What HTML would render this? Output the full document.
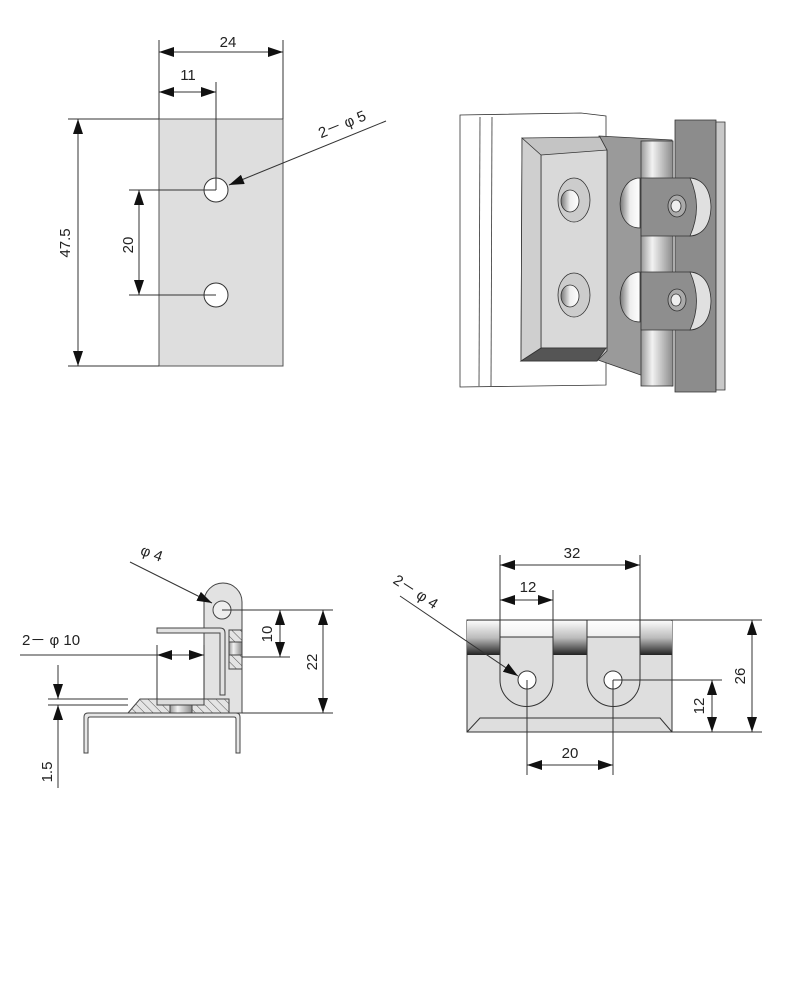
<!DOCTYPE html>
<html><head><meta charset="utf-8"><style>
html,body{margin:0;padding:0;background:#fff;}
svg{display:block;}
text{font-family:"Liberation Sans",sans-serif;font-size:15px;fill:#222;}
</style></head><body>
<svg width="788" height="1000" viewBox="0 0 788 1000" xmlns="http://www.w3.org/2000/svg">
<defs>
<marker id="a" viewBox="0 0 15 10" refX="15" refY="5" markerWidth="15" markerHeight="10" markerUnits="userSpaceOnUse" orient="auto-start-reverse"><path d="M0,0L15,5L0,10z" fill="#111"/></marker>
<pattern id="h" width="6" height="6" patternUnits="userSpaceOnUse" patternTransform="rotate(-45)"><rect width="6" height="6" fill="#e4e4e4"/><line x1="0" y1="0" x2="0" y2="6" stroke="#555" stroke-width="1"/></pattern>
<linearGradient id="band" x1="0" y1="0" x2="0" y2="1"><stop offset="0" stop-color="#fafafa"/><stop offset="0.5" stop-color="#bbb"/><stop offset="1" stop-color="#222"/></linearGradient>
<linearGradient id="sband" x1="0" y1="0" x2="0" y2="1"><stop offset="0" stop-color="#fff"/><stop offset="1" stop-color="#f0f0f0"/></linearGradient>
<linearGradient id="cyl" x1="0" y1="0" x2="1" y2="0"><stop offset="0" stop-color="#999"/><stop offset="0.35" stop-color="#f2f2f2"/><stop offset="1" stop-color="#8a8a8a"/></linearGradient>
<linearGradient id="cut" x1="0" y1="0" x2="1" y2="0"><stop offset="0" stop-color="#777"/><stop offset="0.5" stop-color="#eee"/><stop offset="1" stop-color="#fff"/></linearGradient>
</defs>
<g stroke="#333" stroke-width="1" fill="none">
<rect x="159" y="119" width="124" height="247" fill="#dedede" stroke="#555"/>
<circle cx="216" cy="190" r="12" fill="#fff"/>
<circle cx="216" cy="295" r="12" fill="#fff"/>
<line x1="159" y1="40" x2="159" y2="119"/><line x1="283" y1="40" x2="283" y2="119"/>
<line x1="159" y1="52" x2="283" y2="52" marker-start="url(#a)" marker-end="url(#a)"/>
<line x1="216" y1="82" x2="216" y2="190"/>
<line x1="159" y1="92" x2="216" y2="92" marker-start="url(#a)" marker-end="url(#a)"/>
<line x1="68" y1="119" x2="159" y2="119"/><line x1="68" y1="366" x2="159" y2="366"/>
<line x1="78" y1="119" x2="78" y2="366" marker-start="url(#a)" marker-end="url(#a)"/>
<line x1="129" y1="190" x2="216" y2="190"/><line x1="129" y1="295" x2="216" y2="295"/>
<line x1="139" y1="190" x2="139" y2="295" marker-start="url(#a)" marker-end="url(#a)"/>
<line x1="386" y1="121" x2="229" y2="185" marker-end="url(#a)"/>
</g>
<text x="228" y="47" text-anchor="middle">24</text>
<text x="188" y="80" text-anchor="middle">11</text>
<text transform="translate(70,243) rotate(-90)" text-anchor="middle">47.5</text>
<text transform="translate(133,245) rotate(-90)" text-anchor="middle">20</text>
<text transform="translate(344,129) rotate(-22)" text-anchor="middle">2－ φ 5</text>

<g stroke="#333" stroke-width="0.8">
<polygon points="460,115 581,113 606,116 606,385 460,387" fill="#fff"/>
<line x1="480" y1="117" x2="479" y2="386"/><line x1="492" y1="117" x2="491" y2="386"/>
<polygon points="599,136 672,140 672,386 598,360" fill="#9a9a9a"/>
<polygon points="675,120 716,120 716,392 675,392" fill="#8c8c8c"/>
<polygon points="716,122 725,122 725,390 716,390" fill="#c8c8c8"/>
<rect x="641" y="141" width="32" height="245" fill="url(#cyl)"/>
<polygon points="522,138 600,137 607,150 607,351 597,361 521,361" fill="#c4c4c4"/>
<polygon points="541,155 607,150 607,348 541,348" fill="#d9d9d9"/>
<polygon points="521,361 541,348 606,348 597,361" fill="#555"/>
<polygon points="522,138 541,155 541,348 521,361" fill="#cfcfcf"/>
<ellipse cx="574" cy="200" rx="16" ry="22" fill="#ccc"/><ellipse cx="570" cy="201" rx="9" ry="11" fill="url(#cut)"/>
<ellipse cx="574" cy="295" rx="16" ry="22" fill="#ccc"/><ellipse cx="570" cy="296" rx="9" ry="11" fill="url(#cut)"/>
<path d="M640,178 C615,178 612,228 640,228 Z" fill="url(#cut)"/>
<path d="M640,272 C615,272 612,322 640,322 Z" fill="url(#cut)"/>
<path d="M641,178 L690,178 Q707,178 707,207 Q707,236 690,236 L641,236 Z" fill="#8e8e8e"/>
<path d="M690,178 Q710,180 711,207 Q710,234 690,236 Q703,207 690,178Z" fill="#e0e0e0"/>
<path d="M641,272 L690,272 Q707,272 707,301 Q707,330 690,330 L641,330 Z" fill="#8e8e8e"/>
<path d="M690,272 Q710,274 711,301 Q710,328 690,330 Q703,301 690,272Z" fill="#e0e0e0"/>
<ellipse cx="677" cy="206" rx="9" ry="11" fill="#aaa"/><ellipse cx="676" cy="206" rx="5" ry="6" fill="#eee"/>
<ellipse cx="677" cy="300" rx="9" ry="11" fill="#aaa"/><ellipse cx="676" cy="300" rx="5" ry="6" fill="#eee"/>
</g>

<g stroke="#444" stroke-width="1">
<path d="M84,753 L84,717 Q84,713 88,713 L236,713 Q240,713 240,717 L240,753 L236,753 L236,719 Q236,717 234,717 L90,717 Q88,717 88,719 L88,753 Z" fill="#e6e6e6"/>
<path d="M204,713 L204,602 A19,19 0 0 1 242,602 L242,713 Z" fill="#e2e2e2"/>
<circle cx="222" cy="610" r="9" fill="#eee"/>
<rect x="229" y="630" width="13" height="12" fill="url(#h)"/>
<rect x="229" y="655" width="13" height="14" fill="url(#h)"/>
<rect x="229" y="642" width="13" height="13" fill="url(#cyl)"/>
<path d="M157,628 L220,628 Q225,628 225,633 L225,695 L220,695 L220,633 L157,633 Z" fill="#e2e2e2"/>
<polygon points="128,713 140,699 229,699 229,713" fill="url(#h)"/>
<rect x="157" y="699" width="47" height="6" fill="#ddd"/>
<rect x="170" y="705" width="22" height="8" fill="url(#cyl)"/>
</g>
<g stroke="#333" stroke-width="1" fill="none">
<line x1="130" y1="562" x2="212" y2="603" marker-end="url(#a)"/>
<line x1="222" y1="610" x2="333" y2="610"/><line x1="242" y1="657" x2="290" y2="657"/><line x1="242" y1="713" x2="333" y2="713"/>
<line x1="280" y1="610" x2="280" y2="657" marker-start="url(#a)" marker-end="url(#a)"/>
<line x1="323" y1="610" x2="323" y2="713" marker-start="url(#a)" marker-end="url(#a)"/>
<line x1="157" y1="645" x2="157" y2="699"/><line x1="204" y1="645" x2="204" y2="699"/>
<line x1="20" y1="655" x2="157" y2="655"/>
<line x1="181" y1="655" x2="157" y2="655" marker-end="url(#a)"/><line x1="181" y1="655" x2="204" y2="655" marker-end="url(#a)"/>
<line x1="48" y1="699" x2="128" y2="699"/><line x1="48" y1="705" x2="128" y2="705"/>
<line x1="58" y1="665" x2="58" y2="699" marker-end="url(#a)"/>
<line x1="58" y1="788" x2="58" y2="705" marker-end="url(#a)"/>
</g>
<text transform="translate(150,558) rotate(20)" text-anchor="middle">φ 4</text>
<text x="22" y="645">2－ φ 10</text>
<text transform="translate(272,634) rotate(-90)" text-anchor="middle">10</text>
<text transform="translate(317,662) rotate(-90)" text-anchor="middle">22</text>
<text transform="translate(52,772) rotate(-90)" text-anchor="middle">1.5</text>

<g stroke="#333" stroke-width="1">
<rect x="467" y="620" width="205" height="112" fill="#dedede"/>
<rect x="467" y="621" width="205" height="34" fill="url(#band)" stroke="none"/>
<path d="M500,620 L500,680 A26.5,26.5 0 0 0 553,680 L553,620" fill="#dedede"/>
<path d="M587,620 L587,680 A26.5,26.5 0 0 0 640,680 L640,620" fill="#dedede"/>
<rect x="500.5" y="620.5" width="52" height="16.5" fill="url(#sband)" stroke="none"/>
<rect x="587.5" y="620.5" width="52" height="16.5" fill="url(#sband)" stroke="none"/>
<line x1="500" y1="637" x2="553" y2="637"/><line x1="587" y1="637" x2="640" y2="637"/>
<line x1="467" y1="620" x2="672" y2="620"/>
<polyline points="467,732 480,718 660,718 672,732" fill="none"/>
<circle cx="527" cy="680" r="9" fill="#fff"/><circle cx="613" cy="680" r="9" fill="#fff"/>
</g>
<g stroke="#333" stroke-width="1" fill="none">
<line x1="500" y1="555" x2="500" y2="620"/><line x1="640" y1="555" x2="640" y2="620"/>
<line x1="500" y1="565" x2="640" y2="565" marker-start="url(#a)" marker-end="url(#a)"/>
<line x1="553" y1="590" x2="553" y2="620"/>
<line x1="500" y1="600" x2="553" y2="600" marker-start="url(#a)" marker-end="url(#a)"/>
<line x1="527" y1="680" x2="527" y2="775"/><line x1="613" y1="680" x2="613" y2="775"/>
<line x1="527" y1="765" x2="613" y2="765" marker-start="url(#a)" marker-end="url(#a)"/>
<line x1="672" y1="620" x2="762" y2="620"/><line x1="672" y1="732" x2="762" y2="732"/>
<line x1="752" y1="620" x2="752" y2="732" marker-start="url(#a)" marker-end="url(#a)"/>
<line x1="613" y1="680" x2="722" y2="680"/>
<line x1="712" y1="680" x2="712" y2="732" marker-start="url(#a)" marker-end="url(#a)"/>
<line x1="400" y1="596" x2="518" y2="676" marker-end="url(#a)"/>
</g>
<text x="572" y="558" text-anchor="middle">32</text>
<text x="528" y="592" text-anchor="middle">12</text>
<text x="570" y="758" text-anchor="middle">20</text>
<text transform="translate(745,676) rotate(-90)" text-anchor="middle">26</text>
<text transform="translate(704,706) rotate(-90)" text-anchor="middle">12</text>
<text transform="translate(413,596) rotate(33)" text-anchor="middle">2－ φ 4</text>
</svg>
</body></html>
